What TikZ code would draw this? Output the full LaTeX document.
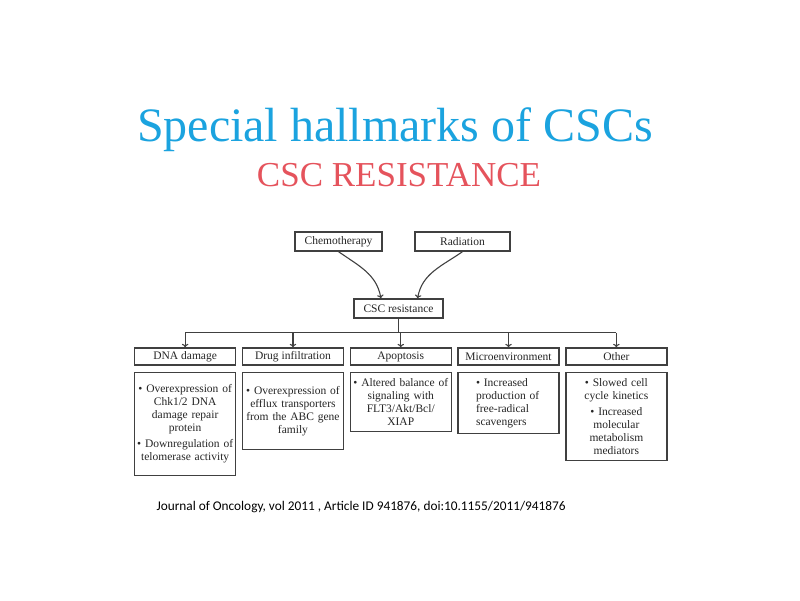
\documentclass[tikz,border=0pt]{standalone}
\usepackage{fontspec}
\setmainfont{Liberation Serif}
\newfontfamily\citefont{Carlito}
\usetikzlibrary{arrows.meta,positioning,calc}
\definecolor{TitleBlue}{HTML}{1BA3DF}
\definecolor{SubtitleRed}{HTML}{E5535C}
\definecolor{FrameGray}{HTML}{404040}
\definecolor{InkGray}{HTML}{262626}
\tikzset{
  box/.style={draw=FrameGray, line width=1.3pt, fill=white, text=InkGray,
    font=\fontsize{11.5}{13}\selectfont, inner sep=0pt, align=center},
  head/.style={box, minimum width=101pt, minimum height=17pt},
  detail/.style={box, text width=97pt, inner xsep=2pt},
  flow/.style={-{To[length=3.5pt,width=6.5pt]}, FrameGray, line width=1.1pt},
  link/.style={FrameGray, line width=1.1pt}
}

\begin{document}
\begin{tikzpicture}[x=1pt, y=1pt, node distance=5.5pt]
  \useasboundingbox (0,0) rectangle (800,600);
  \node[font=\fontsize{48}{54}\selectfont, text=TitleBlue, anchor=base] (title) at (395,458)
    {Special hallmarks of CSCs};
  \node[font=\fontsize{35}{40}\selectfont, text=SubtitleRed, anchor=base] (subtitle) at (399,413)
    {CSC RESISTANCE};

  % causes
  \node[box, minimum width=87pt, minimum height=19pt] (chemo) at (338.5,358.5) {Chemotherapy};
  \node[box, minimum width=95pt, minimum height=19pt] (radiation) at (462.5,358.5) {Radiation};
  \node[box, minimum width=89pt, minimum height=19pt] (csc) at (398.5,291.5) {CSC resistance};
  \draw[flow] (chemo.south) to[out=-35, in=100] (csc.150);
  \draw[flow] (radiation.south) to[out=-145, in=80] (csc.28);

  % mechanisms
  \node[head, anchor=west] (dnahead) at (134,243.5) {DNA damage};
  \node[head, right=of dnahead] (drughead) {Drug infiltration};
  \node[head, right=of drughead] (apohead) {Apoptosis};
  \node[head, right=of apohead] (microhead) {Microenvironment};
  \node[head, right=of microhead] (otherhead) {Other};

  \coordinate (bus) at ($(csc.south)+(0,-14)$);
  \draw[link] (csc.south) -- (bus);
  \draw[link] (dnahead.north |- bus) -- (otherhead.north |- bus);
  \foreach \n in {dnahead,drughead,apohead,microhead,otherhead}
    \draw[flow] (\n.north |- bus) -- (\n.north);

  \node[detail, minimum height=103pt, below=6pt of dnahead] (dnatext)
    {\textbullet\ Overexpression of\\ Chk1/2 DNA\\ damage repair\\ protein\\[3pt]
     \textbullet\ Downregulation of\\ telomerase activity};
  \node[detail, minimum height=77pt, below=6pt of drughead] (drugtext)
    {\textbullet\ Overexpression of\\ efflux transporters\\ from the ABC gene\\ family};
  \node[detail, minimum height=59pt, below=6pt of apohead] (apotext)
    {\textbullet\ Altered balance of\\ signaling with\\ FLT3/Akt/Bcl/\\ XIAP};
  \node[detail, minimum height=61pt, text width=65pt, inner xsep=18pt, align=left,
    below=6pt of microhead] (microtext)
    {\textbullet\ Increased\\ production of\\ free-radical\\ scavengers};
  \node[detail, minimum height=88pt, below=6pt of otherhead] (othertext)
    {\textbullet\ Slowed cell\\ cycle kinetics\\[3pt] \textbullet\ Increased\\ molecular\\ metabolism\\ mediators};

  \node[font=\citefont\fontsize{13.3}{15}\selectfont, anchor=base west] (cite) at (153,90)
    {Journal of Oncology, vol 2011 , Article ID 941876, doi:10.1155/2011/941876};
\end{tikzpicture}
\end{document}
